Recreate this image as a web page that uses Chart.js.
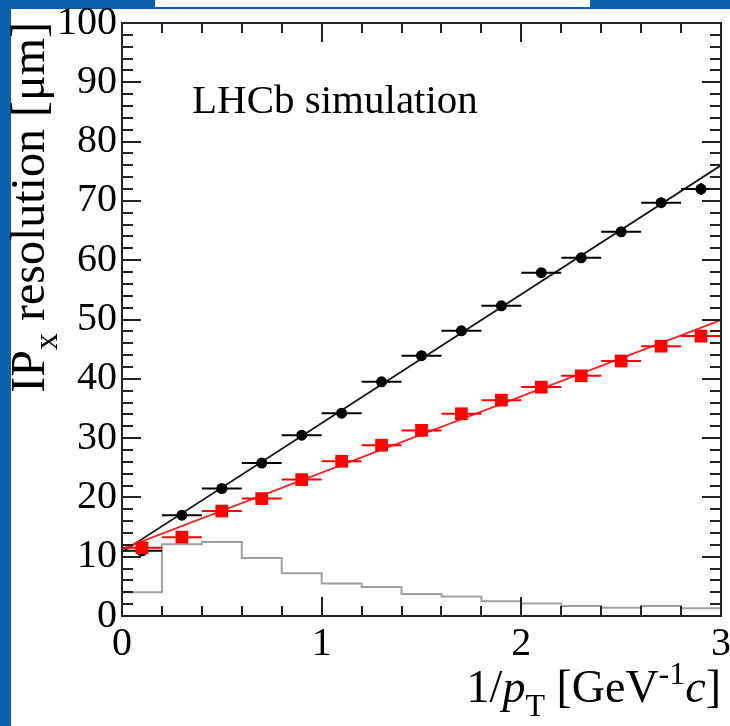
<!DOCTYPE html>
<html>
<head>
<meta charset="utf-8">
<script src="https://cdn.jsdelivr.net/npm/chart.js@4.4.1/dist/chart.umd.min.js"></script>
<style>
  html, body { margin:0; padding:0; }
  body { width:730px; height:726px; background:#0a62ad; position:relative; overflow:hidden; }
  #panel { position:absolute; left:11px; top:9px; width:719px; height:717px; background:#fff; }
  #topbox { position:absolute; left:155px; top:0; width:435px; height:7px; background:#fff; }
  #c { position:absolute; left:0; top:0; }
</style>
</head>
<body>
<div id="panel"></div>
<div id="topbox"></div>
<canvas id="c" width="730" height="726"></canvas>
<script>
// bin centres, 1/pT [GeV^-1 c]
var pointX = [0.1, 0.3, 0.5, 0.7, 0.9, 1.1, 1.3, 1.5, 1.7, 1.9, 2.1, 2.3, 2.5, 2.7, 2.9];
var halfWidth = 0.1;
// IPx resolution [um], black circles
var blackY = [11.0, 17.0, 21.5, 25.8, 30.5, 34.2, 39.5, 43.9, 48.1, 52.3, 57.9, 60.4, 64.8, 69.7, 72.0];
var blackErr = [0.3, 0.3, 0.3, 0.3, 0.3, 0.3, 0.4, 0.4, 0.4, 0.5, 0.5, 0.5, 0.6, 0.8, 1.0];
// red squares
var redY = [11.5, 13.3, 17.7, 19.8, 23.0, 26.1, 28.8, 31.3, 34.1, 36.4, 38.6, 40.5, 43.0, 45.5, 47.2];
var redErr = [0.3, 0.3, 0.3, 0.3, 0.3, 0.3, 0.3, 0.3, 0.3, 0.3, 0.4, 0.4, 0.4, 0.5, 0.6];
// linear fits, end points
var fitX = [0, 3];
var blackFit = [10.8, 76.0];
var redFit = [11.3, 49.9];
// grey pT distribution (arbitrary units)
var histEdges = [0, 0.2, 0.4, 0.6, 0.8, 1.0, 1.2, 1.4, 1.6, 1.8, 2.0, 2.2, 2.4, 2.6, 2.8, 3.0];
var histVals = [4.0, 12.1, 12.5, 9.8, 7.2, 5.5, 4.9, 3.7, 3.3, 2.5, 2.1, 1.7, 1.4, 1.7, 1.3];

var SERIF = '"Liberation Serif", "DejaVu Serif", serif';

let pts = (xs, ys) => xs.map((x, i) => ({x: x, y: ys[i]}));

let histPts = histVals.map((v, i) => ({x: histEdges[i], y: v}));
histPts.push({x: histEdges[histEdges.length - 1], y: histVals[histVals.length - 1]});

/** ROOT-like frame, inward ticks, error bars and axis titles */
var rootStyle = {
  id: 'rootStyle',
  beforeDatasetDraw(chart, args) {
    let ds = chart.data.datasets[args.index];
    if (!ds.errY) return;
    let xs = chart.scales.x, ys = chart.scales.y;
    let c = chart.ctx;
    c.save();
    c.strokeStyle = ds.errColor;
    c.lineWidth = 2;
    c.beginPath();
    ds.data.forEach((p, i) => {
      c.moveTo(xs.getPixelForValue(p.x - halfWidth), ys.getPixelForValue(p.y));
      c.lineTo(xs.getPixelForValue(p.x + halfWidth), ys.getPixelForValue(p.y));
      c.moveTo(xs.getPixelForValue(p.x), ys.getPixelForValue(p.y - ds.errY[i]));
      c.lineTo(xs.getPixelForValue(p.x), ys.getPixelForValue(p.y + ds.errY[i]));
    });
    c.stroke();
    c.restore();
  },
  afterDraw(chart) {
    let c = chart.ctx;
    let a = chart.chartArea;
    let xs = chart.scales.x, ys = chart.scales.y;
    c.save();
    c.strokeStyle = '#222';
    c.lineWidth = 2;
    c.strokeRect(a.left, a.top, a.right - a.left, a.bottom - a.top);
    c.beginPath();
    // x ticks every 0.2, bottom and top
    for (let k = 0; k <= 15; k++) {
      let v = k * 0.2;
      let px = Math.round(xs.getPixelForValue(v));
      let len = (k % 5 === 0) ? 19 : 10;
      c.moveTo(px, a.bottom); c.lineTo(px, a.bottom - len);
      c.moveTo(px, a.top); c.lineTo(px, a.top + len);
    }
    // y ticks every 2, left and right
    for (let k = 0; k <= 50; k++) {
      let py = Math.round(ys.getPixelForValue(k * 2));
      let len = (k % 5 === 0) ? 19 : 11;
      c.moveTo(a.left, py); c.lineTo(a.left + len, py);
      c.moveTo(a.right, py); c.lineTo(a.right - len, py);
    }
    c.stroke();

    c.fillStyle = '#000';
    // label inside the frame
    c.font = '41px ' + SERIF;
    c.textBaseline = 'alphabetic';
    c.fillText('LHCb simulation', 192, 113);

    // x axis title, right aligned to the axis end
    let big = '46px ' + SERIF, small = '32px ' + SERIF;
    let bigI = 'italic 46px ' + SERIF;
    let xParts = [
      {t: '1/', f: big, dy: 0},
      {t: 'p', f: bigI, dy: 0},
      {t: 'T', f: small, dy: 14},
      {t: ' [GeV', f: big, dy: 0},
      {t: '-1', f: small, dy: -18},
      {t: 'c', f: bigI, dy: 0},
      {t: ']', f: big, dy: 0}
    ];
    let w = 0;
    xParts.forEach(p => { c.font = p.f; w += c.measureText(p.t).width; });
    let x0 = a.right - w, base = 702;
    xParts.forEach(p => { c.font = p.f; c.fillText(p.t, x0, base + p.dy); x0 += c.measureText(p.t).width; });

    // y axis title, rotated, ending at the top of the axis
    let yBig = '48px ' + SERIF, ySmall = '34px ' + SERIF;
    let yParts = [
      {t: 'IP', f: yBig, dy: 0},
      {t: 'x', f: ySmall, dy: 13},
      {t: ' resolution [\u03bcm]', f: yBig, dy: 0}
    ];
    w = 0;
    yParts.forEach(p => { c.font = p.f; w += c.measureText(p.t).width; });
    c.translate(44, a.top - 1);
    c.rotate(-Math.PI / 2);
    x0 = -w;
    yParts.forEach(p => { c.font = p.f; c.fillText(p.t, x0, p.dy); x0 += c.measureText(p.t).width; });
    c.restore();
  }
};

new Chart(document.getElementById('c'), {
  type: 'scatter',
  data: {
    datasets: [
      {
        type: 'line',
        data: histPts,
        stepped: 'before',
        borderColor: '#a0a0a0',
        borderWidth: 2,
        pointRadius: 0,
        fill: false,
        order: 5
      },
      {
        type: 'line',
        data: pts(fitX, blackFit),
        borderColor: '#1a1a1a',
        borderWidth: 1.8,
        pointRadius: 0,
        fill: false,
        order: 4
      },
      {
        type: 'line',
        data: pts(fitX, redFit),
        borderColor: '#ff1a1a',
        borderWidth: 1.8,
        pointRadius: 0,
        fill: false,
        order: 3
      },
      {
        data: pts(pointX, blackY),
        errY: blackErr,
        errColor: '#000',
        pointStyle: 'circle',
        pointRadius: 5.5,
        backgroundColor: '#000',
        borderWidth: 0,
        order: 2
      },
      {
        data: pts(pointX, redY),
        errY: redErr,
        errColor: '#ff0000',
        pointStyle: 'rect',
        pointRadius: 9,
        backgroundColor: '#ff0000',
        borderWidth: 0,
        order: 1
      }
    ]
  },
  options: {
    responsive: false,
    animation: false,
    events: [],
    layout: { padding: { left: 0, top: 23, right: 7, bottom: 0 } },
    plugins: { legend: { display: false }, tooltip: { enabled: false } },
    scales: {
      x: {
        type: 'linear',
        min: 0, max: 3,
        grid: { display: false, drawTicks: false },
        border: { display: false },
        ticks: {
          stepSize: 1,
          padding: 4,
          color: '#000',
          font: { family: SERIF, size: 40 },
          maxRotation: 0
        },
        afterFit: function (scale) {
          scale.height = 110;
          scale.paddingLeft = 0;
          scale.paddingRight = 0;
        }
      },
      y: {
        min: 0, max: 100,
        grid: { display: false, drawTicks: false },
        border: { display: false },
        ticks: {
          stepSize: 10,
          padding: 5,
          color: '#000',
          font: { family: SERIF, size: 40 }
        },
        afterFit: function (scale) {
          scale.width = 122;
          scale.paddingTop = 0;
          scale.paddingBottom = 0;
        }
      }
    }
  },
  plugins: [rootStyle]
});
</script>
</body>
</html>
